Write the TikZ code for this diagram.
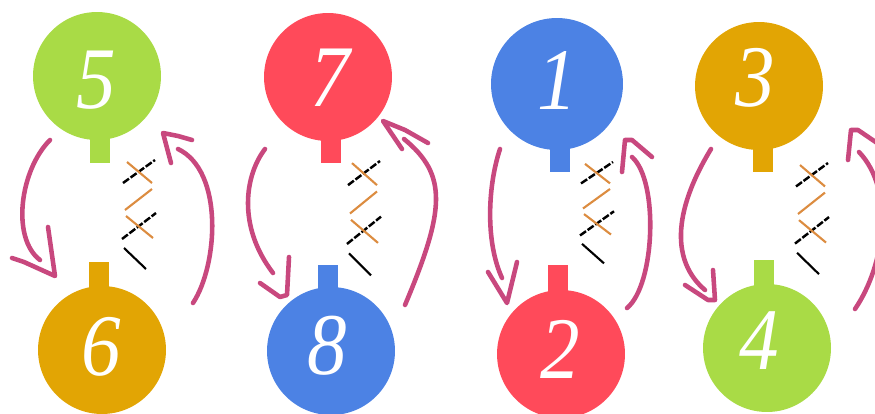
\documentclass[tikz,border=0pt]{standalone}
\usepackage{fontspec}
\newfontfamily\digitfont[FakeStretch=0.9]{Liberation Serif}

\definecolor{ballgreen}{HTML}{A9DB46}
\definecolor{ballred}{HTML}{FF4A5A}
\definecolor{ballblue}{HTML}{4C82E4}
\definecolor{ballamber}{HTML}{E2A504}
\definecolor{arrowpink}{HTML}{C8487E}
\definecolor{tickorange}{HTML}{DC8C40}

\tikzset{
  ball/.style={circle, minimum size=2.56cm, inner sep=0pt},
  digit/.style={inner sep=0pt, text=white, font=\fontsize{50}{50}\digitfont\itshape},
  stem/.style={rectangle, minimum width=0.4cm, minimum height=0.8cm, inner sep=0pt},
  bend line/.style={draw=arrowpink, line width=2.6pt, line cap=round, line join=round},
  orange tick/.style={draw=tickorange, line width=1.2pt},
  black tick/.style={draw=black, line width=1.2pt},
  dashed tick/.style={draw=black, line width=1.4pt, dash pattern=on 4.2pt off 1.1pt}
}

\begin{document}
\begin{tikzpicture}[x=0.02cm, y=-0.02cm]
    \useasboundingbox (0,0) rectangle (875,413);

    % draw stems
    \foreach \name/\x/\y/\col in {5/100/143/ballgreen, 6/99/282/ballamber, 7/331/143/ballred, 8/328/285/ballblue,
                                  1/560/152/ballblue, 2/558/285/ballred, 3/763/152/ballamber, 4/764/280/ballgreen}
      \node[stem, fill=\col] (s\name) at (\x,\y) {};

    % draw balls
    \node[ball, fill=ballgreen] (n5) at (97,76) {};
    \node[ball, fill=ballamber] (n6) at (102,350) {};
    \node[ball, fill=ballred] (n7) at (328,77) {};
    \node[ball, fill=ballblue] (n8) at (331,351) {};
    \node[ball, fill=ballblue, minimum size=2.64cm] (n1) at (557,84) {};
    \node[ball, fill=ballred] (n2) at (561,354) {};
    \node[ball, fill=ballamber] (n3) at (759,86) {};
    \node[ball, fill=ballgreen] (n4) at (767,348) {};

    % draw digits
    \foreach \name/\x/\y in {5/96/80, 6/101/347, 7/330/78, 8/327/346, 1/557/80, 2/560/349, 3/755/78, 4/759/341}
      \node[digit] (d\name) at (\x,\y) {\name};

    % draw crossed ticks
    \foreach \x/\y/\s in {123/160/1, 348/161/1.05, 581/162/0.93, 796/163/1.02} {
      \begin{scope}[shift={(\x,\y)}, y=-0.02cm*\s]
        \draw[dashed tick] (0,23) -- (32,0);
        \draw[orange tick] (4,2) -- (29,23);
        \draw[orange tick] (2,50) -- (29,29);
        \draw[dashed tick] (-1,79) -- (33,53);
        \draw[orange tick] (3,56) -- (30,78);
        \draw[black tick] (1,88) -- (23,109);
      \end{scope}
    }

    % draw curved arrows, down
    \coordinate (a5) at (50,140);  \coordinate (b6) at (40,260);
    \coordinate (a7) at (265,149); \coordinate (b8) at (273,273);
    \coordinate (a1) at (500,149); \coordinate (b2) at (502,278);
    \coordinate (a3) at (711,149); \coordinate (b4) at (705,290);
    \draw[bend line] (a5) .. controls (20,170) and (11,238) .. (b6);
    \draw[bend line] (12,258) -- (24,262) -- (55,276) -- (48,227);
    \draw[bend line] (a7) .. controls (245,175) and (237,226) .. (b8);
    \draw[bend line] (260,283) -- (280,297) -- (287,295) -- (289,257);
    \draw[bend line] (a1) .. controls (488,185) and (485,241) .. (b2);
    \draw[bend line] (488,272) -- (507,303) -- (517,262);
    \draw[bend line] (a3) .. controls (672,213) and (672,262) .. (b4);
    \draw[bend line] (685,285) -- (708,300) -- (715,300) -- (713,270);

    % draw curved arrows, up
    \coordinate (a6) at (193,303); \coordinate (b5) at (178,149);
    \coordinate (a8) at (405,305); \coordinate (b7) at (404,139);
    \coordinate (a2) at (627,308); \coordinate (b1) at (632,157);
    \coordinate (a4) at (855,309); \coordinate (b3) at (859,152);
    \draw[bend line] (a6) .. controls (218,265) and (224,171) .. (b5);
    \draw[bend line] (192,140) -- (178,136) -- (163,133) -- (171,163);
    \draw[bend line] (a8) .. controls (445,210) and (448,175) .. (b7);
    \draw[bend line] (428,143) -- (405,130) -- (383,121) -- (402,149);
    \draw[bend line] (a2) .. controls (655,285) and (659,181) .. (b1);
    \draw[bend line] (652,157) -- (632,140) -- (625,140) -- (622,172);
    \draw[bend line] (a4) .. controls (885,265) and (895,190) .. (b3);
    \draw[bend line] (880,145) -- (858,130) -- (851,130) -- (848,160);
\end{tikzpicture}
\end{document}
